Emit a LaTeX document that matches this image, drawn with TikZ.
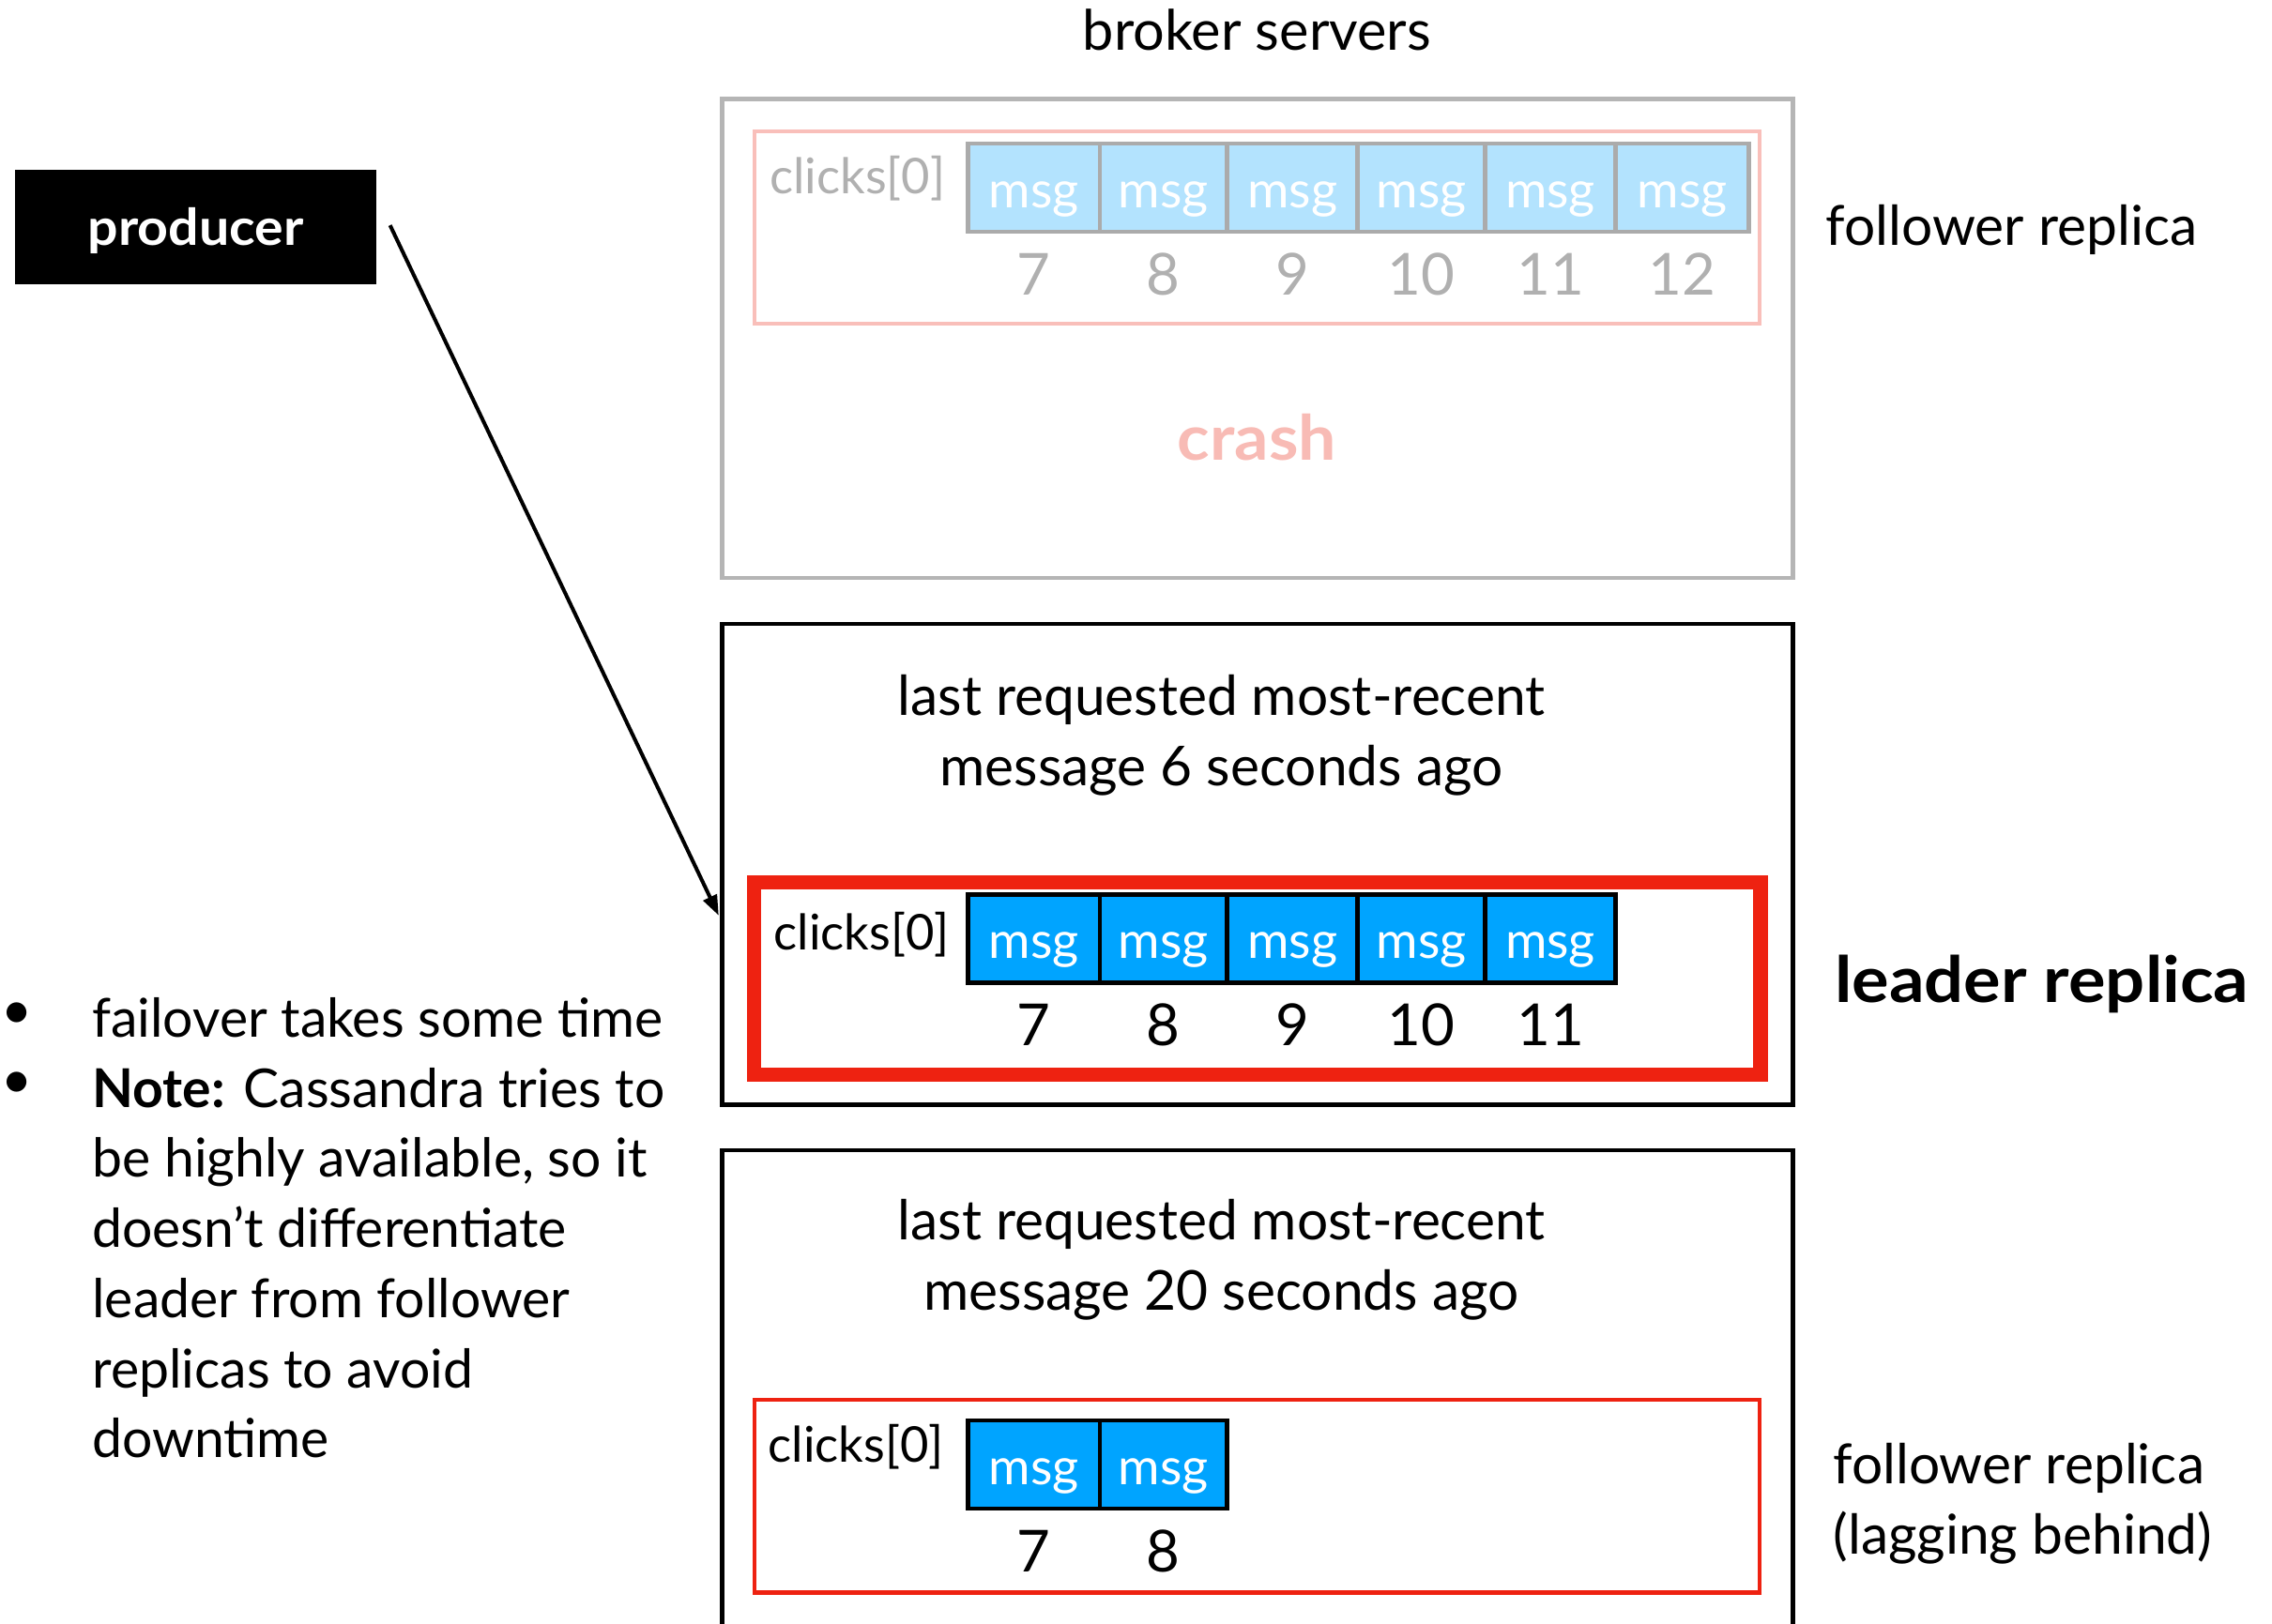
\documentclass[tikz,border=0pt]{standalone}
\usepackage{fontspec}
\setmainfont{Lato}
\usetikzlibrary{arrows.meta}
\definecolor{boxgray}{HTML}{B5B5B5}
\definecolor{pinkline}{HTML}{F9BFBA}
\definecolor{lightblue}{HTML}{B3E3FE}
\definecolor{cellgray}{HTML}{ABABAB}
\definecolor{txtgray}{HTML}{B0B0B0}
\definecolor{brightblue}{HTML}{00A4FF}
\definecolor{redline}{HTML}{EE2211}
\definecolor{crashpink}{HTML}{F8BBB5}
\newcommand{\fsz}[1]{\fontsize{#1}{#1}\selectfont}
\begin{document}
\begin{tikzpicture}[x=1pt,y=-1pt,
  server/.style={draw, line width=3pt},
  cellbase/.style={draw, line width=3pt, inner sep=0pt, minimum height=61pt, text height=27.6pt, text depth=0pt, text=white, font=\fsz{35}},
  graycell/.style={cellbase, draw=cellgray, fill=lightblue},
  bluecell/.style={cellbase, draw=black, fill=brightblue},
  lbl/.style={inner sep=0pt, anchor=base west},
  ctr/.style={inner sep=0pt, anchor=base},
  num/.style={inner sep=0pt, font=\fsz{40}},
]
\useasboundingbox (0,0) rectangle (1568,1121);

% title
\node[ctr, font=\fsz{38.5}] (title) at (867.5,34.5) {broker servers};

% ---------- top server (crashed follower)
\draw[server, draw=boxgray] (498.5,68.5) rectangle (1237.5,399);
\draw[line width=2.8pt, draw=pinkline] (520.5,90.5) rectangle (1214.5,223.5);
\node[lbl, font=\fsz{34}, text=txtgray] (clk1) at (531,133.5) {clicks[0]};
\foreach \a/\b [count=\i] in {668/759,759/847,847/937,937/1025,1025/1115,1115/1207}{
  \pgfmathsetmacro\w{\b-\a}
  \pgfmathsetmacro\c{(\a+\b)/2}
  \pgfmathtruncatemacro\n{\i+6}
  \node[graycell, minimum width=\w pt] (t\i) at (\c,129.5) {msg};
  \node[num, text=txtgray] (tn\i) at (\c,189.5) {\n};
}
\node[ctr, font=\bfseries\fsz{43}, text=crashpink] (crash) at (867.5,317.4) {\scalebox{1.08}[1]{crash}};
\node[lbl, font=\fsz{38}] (fr1) at (1260,169.5) {follower replica};

% ---------- middle server (leader)
\draw[server] (498.5,430.7) rectangle (1237.5,762.5);
\node[ctr, font=\fsz{38}] (m1) at (843,493.6) {last requested most-recent};
\node[ctr, font=\fsz{38}] (m2) at (843,542.7) {message 6 seconds ago};
\draw[line width=10pt, draw=redline] (520.5,609) rectangle (1215,742);
\node[lbl, font=\fsz{34}] (clk2) at (534,655.5) {clicks[0]};
\foreach \a/\b [count=\i] in {668/759,759/847,847/937,937/1025,1025/1115}{
  \pgfmathsetmacro\w{\b-\a}
  \pgfmathsetmacro\c{(\a+\b)/2}
  \pgfmathtruncatemacro\n{\i+6}
  \node[bluecell, minimum width=\w pt] (l\i) at (\c,648) {msg};
  \node[num] (ln\i) at (\c,707.6) {\n};
}
\node[lbl, font=\bfseries\fsz{44}] (lr) at (1266,691.8) {\scalebox{1.09}[1]{leader replica}};

% ---------- bottom server (lagging follower)
\draw[server] (498.5,1125) -- (498.5,794) -- (1237.5,794) -- (1237.5,1125);
\node[ctr, font=\fsz{38}] (b1) at (843,856) {last requested most-recent};
\node[ctr, font=\fsz{38}] (b2) at (843,904.5) {message 20 seconds ago};
\draw[line width=2.8pt, draw=redline] (520.5,966.5) rectangle (1214.5,1099.5);
\node[lbl, font=\fsz{34}] (clk3) at (530,1009.5) {clicks[0]};
\foreach \a/\b [count=\i] in {668/759,759/847}{
  \pgfmathsetmacro\w{\b-\a}
  \pgfmathsetmacro\c{(\a+\b)/2}
  \pgfmathtruncatemacro\n{\i+6}
  \node[bluecell, minimum width=\w pt] (f\i) at (\c,1011) {msg};
  \node[num] (fn\i) at (\c,1071) {\n};
}
\node[lbl, font=\fsz{38}] (fr2a) at (1265,1024.4) {follower replica};
\node[lbl, font=\fsz{38}] (fr2b) at (1265,1073) {(lagging behind)};

% ---------- producer
\node[fill=black, inner sep=0pt, minimum width=249.6pt, minimum height=79pt] (producer) at (135.2,156.5) {};
\node[ctr, font=\bfseries\fsz{35}, text=white] (prodlbl) at (135.2,169.5) {\scalebox{1.06}[1]{producer}};
\coordinate (arrowend) at (496,632);
\draw[line width=2.6pt, -{Triangle[length=14pt,width=10pt]}] ([xshift=9pt,yshift=1pt]producer.east) -- (arrowend);

% ---------- bullets
\node[lbl, font=\fsz{37}] (dot1) at (1,710) {•};
\node[lbl, font=\fsz{37}] (dot2) at (1,758.4) {•};
\node[lbl, font=\fsz{37}] (n1) at (63.5,716) {failover takes some time};
\node[lbl, font=\fsz{37}] (n2) at (63.5,764.4) {\textbf{Note:} Cassandra tries to};
\node[lbl, font=\fsz{37}] (n3) at (63.5,812.8) {be highly available, so it};
\node[lbl, font=\fsz{37}] (n4) at (63.5,861.2) {doesn't differentiate};
\node[lbl, font=\fsz{37}] (n5) at (63.5,909.6) {leader from follower};
\node[lbl, font=\fsz{37}] (n6) at (63.5,958) {replicas to avoid};
\node[lbl, font=\fsz{37}] (n7) at (63.5,1006.4) {downtime};
\end{tikzpicture}
\end{document}
